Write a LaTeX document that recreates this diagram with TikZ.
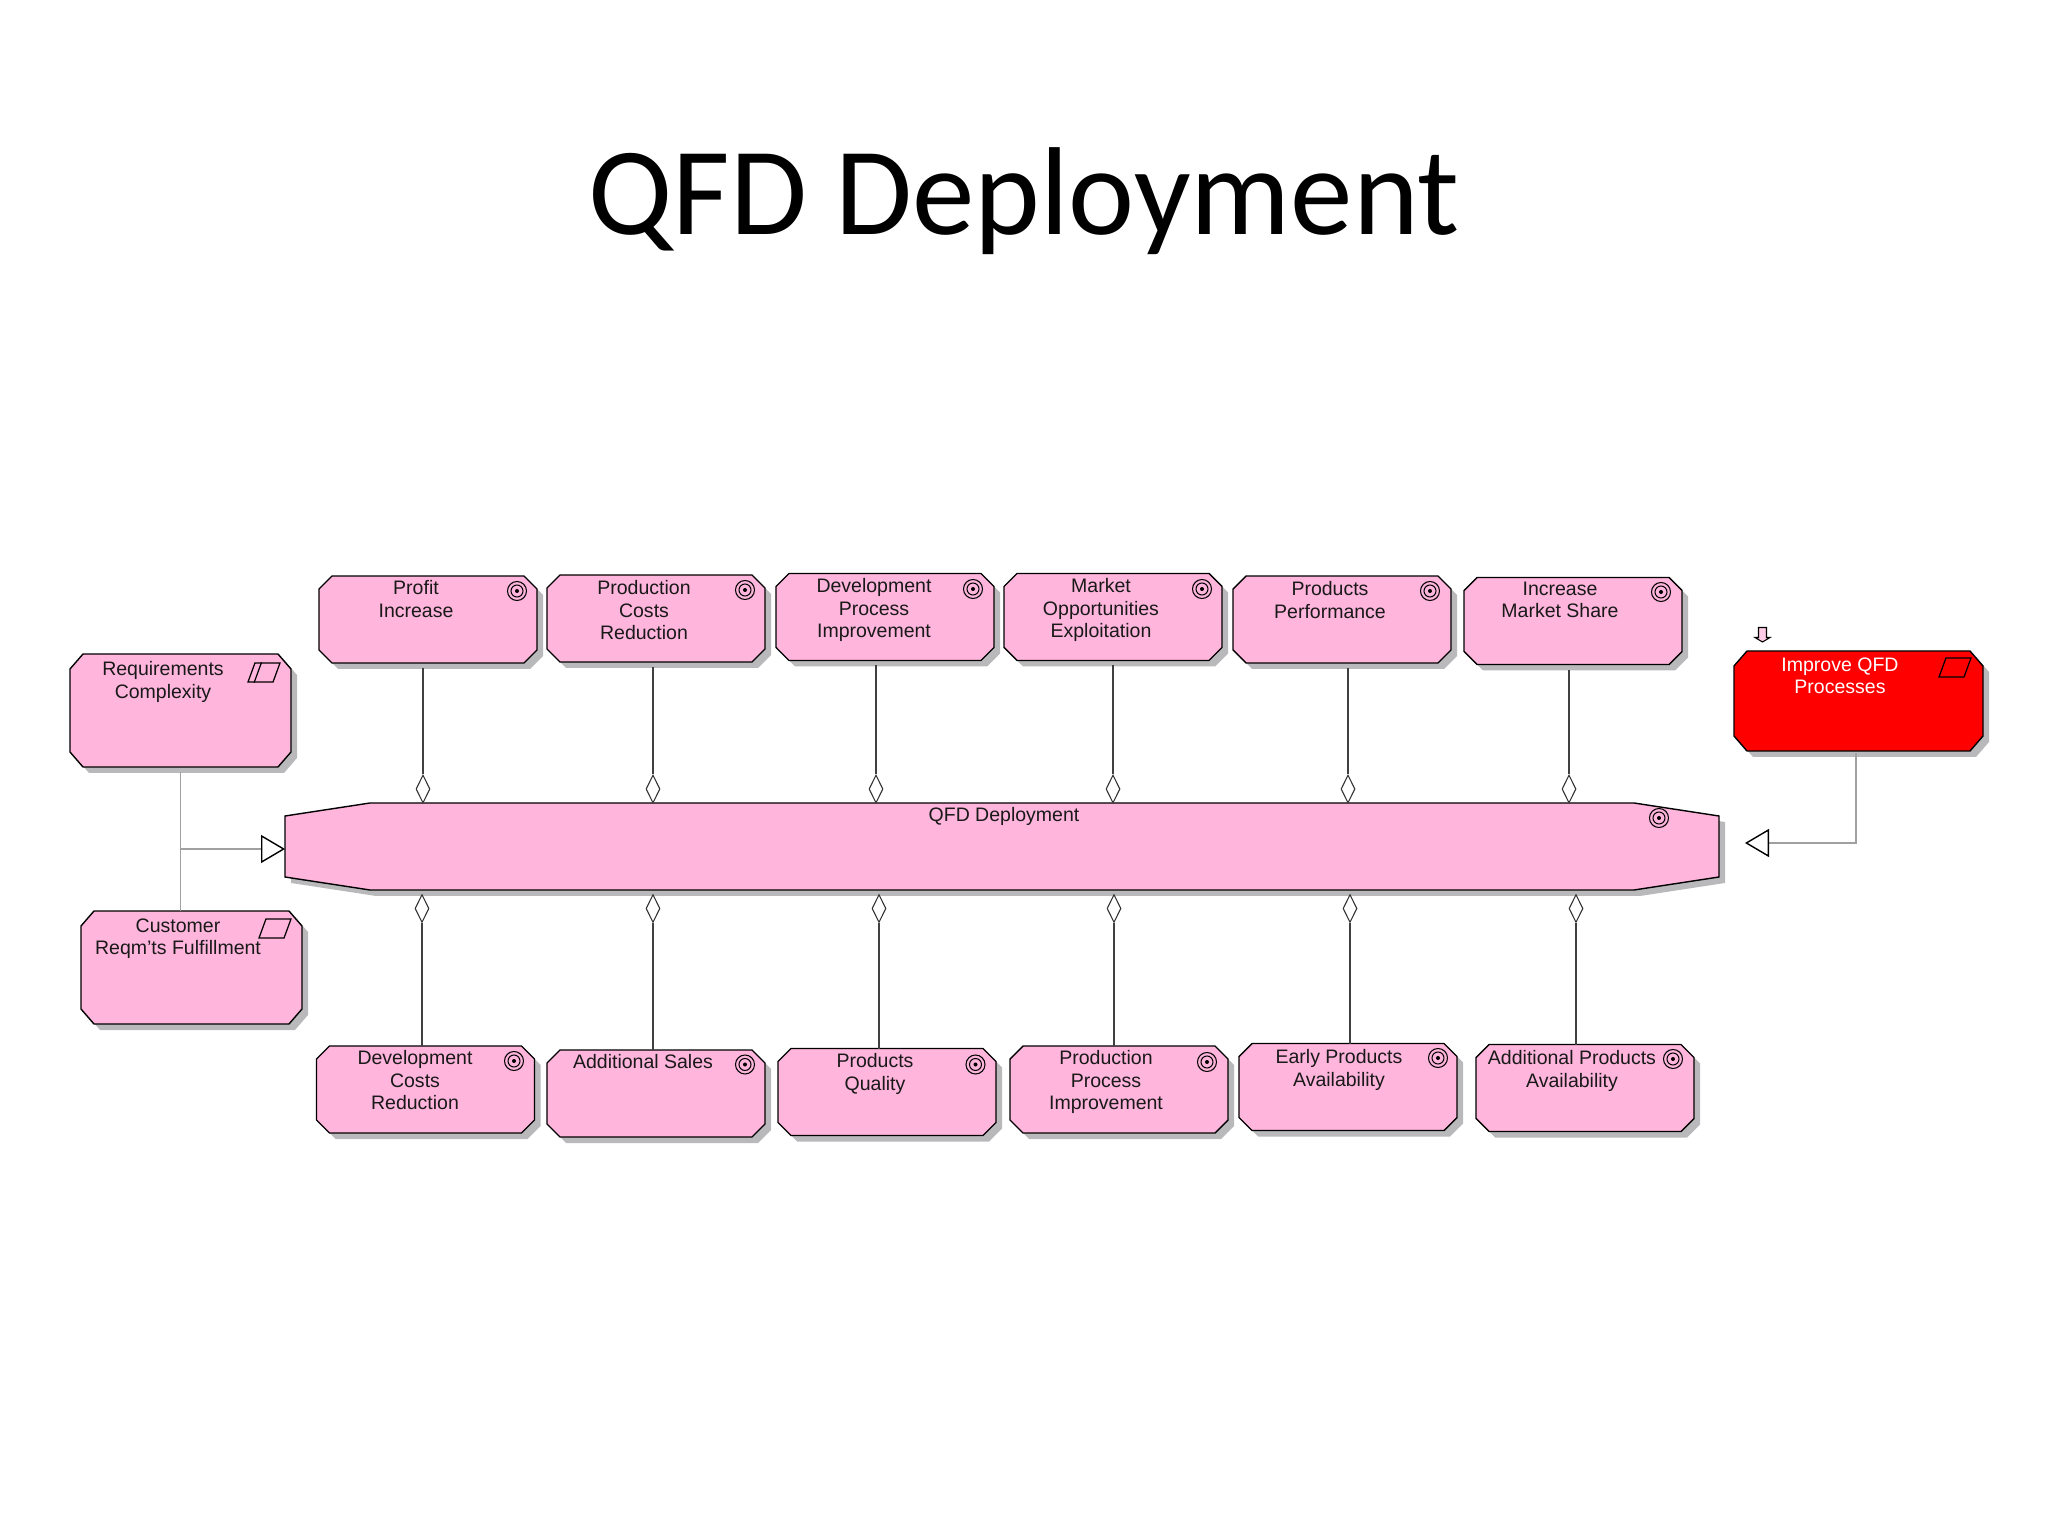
\documentclass[tikz,border=0pt]{standalone}
\usepackage{fontspec}
\setmainfont{Liberation Sans}
\newfontfamily\titlefont{Carlito}
\usetikzlibrary{shapes.geometric,shadows,arrows.meta}
\definecolor{goalpink}{HTML}{FFB5DC}
\definecolor{shadowgray}{HTML}{B9B9BB}
\definecolor{linegray}{HTML}{A0A0A0}
\newdimen\cutl \newdimen\cutr \newdimen\cutt \newdimen\cutb \newdimen\cutx \newdimen\cuty
\pgfkeys{/pgf/cut x/.initial=.13cm,/pgf/cut y/.initial=.13cm}
\makeatletter
\pgfdeclareshape{cutbox}{
  \inheritsavedanchors[from=rectangle]
  \inheritanchorborder[from=rectangle]
  \inheritanchor[from=rectangle]{center}
  \inheritanchor[from=rectangle]{north}
  \inheritanchor[from=rectangle]{south}
  \inheritanchor[from=rectangle]{east}
  \inheritanchor[from=rectangle]{west}
  \backgroundpath{
    \southwest \cutl=\pgf@x \cutb=\pgf@y
    \northeast \cutr=\pgf@x \cutt=\pgf@y
    \pgfmathsetlength\cutx{\pgfkeysvalueof{/pgf/cut x}}
    \pgfmathsetlength\cuty{\pgfkeysvalueof{/pgf/cut y}}
    \pgfpathmoveto{\pgfqpoint{\dimexpr\cutl+\cutx}{\cutt}}
    \pgfpathlineto{\pgfqpoint{\dimexpr\cutr-\cutx}{\cutt}}
    \pgfpathlineto{\pgfqpoint{\cutr}{\dimexpr\cutt-\cuty}}
    \pgfpathlineto{\pgfqpoint{\cutr}{\dimexpr\cutb+\cuty}}
    \pgfpathlineto{\pgfqpoint{\dimexpr\cutr-\cutx}{\cutb}}
    \pgfpathlineto{\pgfqpoint{\dimexpr\cutl+\cutx}{\cutb}}
    \pgfpathlineto{\pgfqpoint{\cutl}{\dimexpr\cutb+\cuty}}
    \pgfpathlineto{\pgfqpoint{\cutl}{\dimexpr\cutt-\cuty}}
    \pgfpathclose
  }
}
\makeatother
\tikzset{
  chamferbox/.style={cutbox,draw=black,line width=.4pt,fill=goalpink,inner sep=0pt,outer sep=0pt,drop shadow={shadow xshift=.06cm,shadow yshift=-.06cm,fill=shadowgray,opacity=1}},
  goalbox/.style={chamferbox,minimum width=2.18cm,minimum height=.87cm},
  driverbox/.style={chamferbox,/pgf/cut y=.15cm,minimum width=2.21cm,minimum height=1.13cm},
  boxtext/.style={anchor=north,inner sep=0pt,align=center,text=black!90,font=\fontsize{5.55}{6.35}\selectfont},
  targeticon/.style={circle,draw=black,line width=.3pt,inner sep=0pt,minimum size=.19cm,path picture={\draw[line width=.3pt] (path picture bounding box.center) circle (.06cm);\fill (path picture bounding box.center) circle (.02cm);}},
  reqicon/.style={trapezium,trapezium left angle=70,trapezium right angle=110,trapezium stretches=true,draw=black,line width=.35pt,inner sep=0pt,minimum width=.32cm,minimum height=.19cm},
  aggr/.style={diamond,draw=black!80,line width=.3pt,fill=white,inner sep=0pt,minimum width=.14cm,minimum height=.28cm},
  aggrline/.style={draw=black!75,line width=.35pt},
  genline/.style={draw=linegray,line width=.35pt},
  gentip/.style={-{Triangle[open,length=.24cm,width=.28cm,color=black,line width=.4pt]}}
}
\begin{document}
\begin{tikzpicture}
  \useasboundingbox (0,0) rectangle (20.48,-15.36);
  \node[anchor=base,inner sep=0pt,font=\titlefont\fontsize{35.6}{40}\selectfont] (title) at(10.24,-2.35) {QFD Deployment};

  \node[chamferbox,/pgf/cut x=.85cm,minimum width=14.34cm,minimum height=.87cm] (main) at(10.02,-8.465) {};
  \node[boxtext] (maintext) at(10.04,-8.07) {QFD Deployment};
  \node[targeticon] (maintarget) at(16.59,-8.18) {};

  \node[goalbox] (profit) at(4.28,-6.195) {};
  \node[goalbox] (production) at(6.56,-6.185) {};
  \node[goalbox] (devprocess) at(8.85,-6.17) {};
  \node[goalbox] (market) at(11.13,-6.17) {};
  \node[goalbox] (performance) at(13.42,-6.195) {};
  \node[goalbox] (share) at(15.73,-6.21) {};

  \node[boxtext] (profittext) at(4.16,-5.80) {Profit\\Increase};
  \node[boxtext] (productiontext) at(6.44,-5.80) {Production\\Costs\\Reduction};
  \node[boxtext] (devprocesstext) at(8.74,-5.78) {Development\\Process\\Improvement};
  \node[boxtext] (markettext) at(11.01,-5.78) {Market\\Opportunities\\Exploitation};
  \node[boxtext] (performancetext) at(13.30,-5.81) {Products\\Performance};
  \node[boxtext] (sharetext) at(15.60,-5.81) {Increase\\Market Share};

  \node[targeticon] (profittarget) at(5.17,-5.91) {};
  \node[targeticon] (productiontarget) at(7.45,-5.90) {};
  \node[targeticon] (devprocesstarget) at(9.73,-5.89) {};
  \node[targeticon] (markettarget) at(12.02,-5.89) {};
  \node[targeticon] (performancetarget) at(14.30,-5.91) {};
  \node[targeticon] (sharetarget) at(16.61,-5.92) {};

  \node[goalbox] (devcosts) at(4.255,-10.895) {};
  \node[goalbox] (sales) at(6.56,-10.935) {};
  \node[goalbox] (quality) at(8.87,-10.92) {};
  \node[goalbox] (procimprove) at(11.19,-10.895) {};
  \node[goalbox] (early) at(13.48,-10.87) {};
  \node[goalbox] (addproducts) at(15.85,-10.88) {};

  \node[boxtext] (devcoststext) at(4.15,-10.50) {Development\\Costs\\Reduction};
  \node[boxtext] (salestext) at(6.43,-10.54) {Additional Sales};
  \node[boxtext] (qualitytext) at(8.75,-10.53) {Products\\Quality};
  \node[boxtext] (procimprovetext) at(11.06,-10.50) {Production\\Process\\Improvement};
  \node[boxtext] (earlytext) at(13.39,-10.49) {Early Products\\Availability};
  \node[boxtext] (addproductstext) at(15.72,-10.50) {Additional Products\\Availability};

  \node[targeticon] (devcoststarget) at(5.14,-10.61) {};
  \node[targeticon] (salestarget) at(7.45,-10.645) {};
  \node[targeticon] (qualitytarget) at(9.755,-10.645) {};
  \node[targeticon] (procimprovetarget) at(12.07,-10.62) {};
  \node[targeticon] (earlytarget) at(14.38,-10.58) {};
  \node[targeticon] (addproductstarget) at(16.73,-10.59) {};

  \node[driverbox] (requirements) at(1.805,-7.105) {};
  \node[driverbox] (customer) at(1.915,-9.675) {};
  \node[driverbox,fill=red,minimum width=2.49cm,minimum height=1cm] (improve) at(18.585,-7.01) {};

  \node[boxtext] (requirementstext) at(1.63,-6.61) {Requirements\\Complexity};
  \node[boxtext] (customertext) at(1.78,-9.18) {Customer\\Reqm'ts Fulfillment};
  \node[boxtext,text=white] (improvetext) at(18.40,-6.57) {Improve QFD\\Processes};

  \node[reqicon] (requirementsicon) at(2.64,-6.725) {\phantom{x}};
  \node[reqicon] (customericon) at(2.75,-9.285) {\phantom{x}};
  \node[reqicon] (improveicon) at(19.55,-6.675) {\phantom{x}};
  \draw[line width=.35pt] ([xshift=.07cm]requirementsicon.top left corner) -- ([xshift=.07cm]requirementsicon.bottom left corner);

  \draw[line width=.3pt,fill=goalpink!70] (17.585,-6.275) -- (17.665,-6.275) -- (17.665,-6.375) -- (17.70,-6.375) -- (17.625,-6.42) -- (17.55,-6.375) -- (17.585,-6.375) -- cycle;

  \node[aggr] (profitdiamond) at(4.23,-7.89) {};
  \node[aggr] (productiondiamond) at(6.53,-7.89) {};
  \node[aggr] (devprocessdiamond) at(8.76,-7.89) {};
  \node[aggr] (marketdiamond) at(11.13,-7.89) {};
  \node[aggr] (performancediamond) at(13.48,-7.89) {};
  \node[aggr] (sharediamond) at(15.69,-7.89) {};
  \node[aggr] (devcostsdiamond) at(4.22,-9.085) {};
  \node[aggr] (salesdiamond) at(6.53,-9.085) {};
  \node[aggr] (qualitydiamond) at(8.79,-9.085) {};
  \node[aggr] (procimprovediamond) at(11.14,-9.085) {};
  \node[aggr] (earlydiamond) at(13.50,-9.085) {};
  \node[aggr] (addproductsdiamond) at(15.76,-9.085) {};

  \draw[aggrline,shorten >=.05cm] (profitdiamond.north) -- (profitdiamond.north |- profit.south);
  \draw[aggrline,shorten >=.05cm] (productiondiamond.north) -- (productiondiamond.north |- production.south);
  \draw[aggrline,shorten >=.05cm] (devprocessdiamond.north) -- (devprocessdiamond.north |- devprocess.south);
  \draw[aggrline,shorten >=.05cm] (marketdiamond.north) -- (marketdiamond.north |- market.south);
  \draw[aggrline,shorten >=.05cm] (performancediamond.north) -- (performancediamond.north |- performance.south);
  \draw[aggrline,shorten >=.05cm] (sharediamond.north) -- (sharediamond.north |- share.south);
  \draw[aggrline] (devcostsdiamond.south) -- (devcostsdiamond.south |- devcosts.north);
  \draw[aggrline] (salesdiamond.south) -- (salesdiamond.south |- sales.north);
  \draw[aggrline] (qualitydiamond.south) -- (qualitydiamond.south |- quality.north);
  \draw[aggrline] (procimprovediamond.south) -- (procimprovediamond.south |- procimprove.north);
  \draw[aggrline] (earlydiamond.south) -- (earlydiamond.south |- early.north);
  \draw[aggrline] (addproductsdiamond.south) -- (addproductsdiamond.south |- addproducts.north);

  \coordinate (joint) at(1.805,-8.49);
  \coordinate (maintip) at(2.85,-8.49);
  \coordinate (improvetip) at(17.45,-8.43);
  \draw[genline,shorten <=.05cm] (requirements.south) -- (requirements.south |- customer.north);
  \draw[genline,gentip] (joint) -- (maintip);
  \draw[genline,gentip,shorten <=.02cm] ([xshift=-.025cm]improve.south) |- (improvetip);
\end{tikzpicture}
\end{document}
